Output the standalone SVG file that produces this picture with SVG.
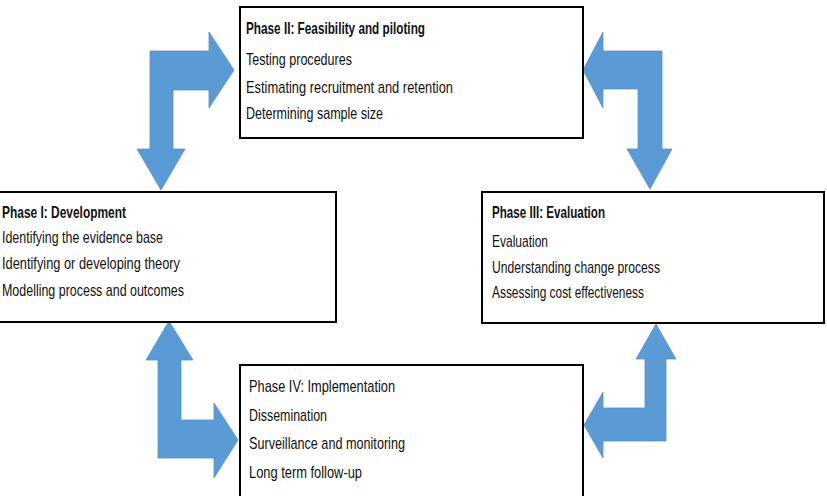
<svg xmlns="http://www.w3.org/2000/svg" width="827" height="496" viewBox="0 0 827 496">
<style>
.box{fill:#fff;stroke:#000;stroke-width:2}
.t{font-family:"Liberation Sans",Arial,sans-serif;font-size:17px;fill:#111}
.b{font-weight:bold}
.arr{fill:#5B9BD5;stroke:#5590CB;stroke-width:0.8;stroke-linejoin:miter}
</style>
<rect width="827" height="496" fill="#fff"/>
<g id="connectors">
<path class="arr" d="M150,51 L209,51 L209,32 L234,70 L209,108 L209,90 L173,90 L173,149 L185,149 L161,190 L137,149 L150,149 Z"/>
<path class="arr" d="M662,51 L603,51 L603,32 L583,70 L603,108 L603,89 L638,89 L638,149 L627,149 L650,189 L672,149 L662,149 Z"/>
<path class="arr" d="M158,458 L214,458 L214,478 L238,440 L214,403 L214,420 L181,420 L181,360 L193,360 L169,321 L146,360 L158,360 Z"/>
<path class="arr" d="M666,441 L603,441 L603,458 L584,425 L603,392 L603,408 L645,408 L645,359 L636,359 L656,324 L676,359 L666,359 Z"/>
</g>
<g id="phase2">
<rect class="box" x="240" y="7" width="343" height="131"/>
<text class="t b" x="246" y="34" textLength="179" lengthAdjust="spacingAndGlyphs">Phase II: Feasibility and piloting</text>
<text class="t" x="246" y="65" textLength="106" lengthAdjust="spacingAndGlyphs">Testing procedures</text>
<text class="t" x="246" y="93" textLength="207" lengthAdjust="spacingAndGlyphs">Estimating recruitment and retention</text>
<text class="t" x="246" y="119" textLength="137" lengthAdjust="spacingAndGlyphs">Determining sample size</text>
</g>
<g id="phase1">
<rect class="box" x="-2" y="192" width="338" height="130"/>
<text class="t b" x="2" y="218" textLength="124" lengthAdjust="spacingAndGlyphs">Phase I: Development</text>
<text class="t" x="2" y="243" textLength="161" lengthAdjust="spacingAndGlyphs">Identifying the evidence base</text>
<text class="t" x="2" y="269" textLength="178" lengthAdjust="spacingAndGlyphs">Identifying or developing theory</text>
<text class="t" x="2" y="296" textLength="182" lengthAdjust="spacingAndGlyphs">Modelling process and outcomes</text>
</g>
<g id="phase3">
<rect class="box" x="482" y="192" width="342" height="131"/>
<text class="t b" x="492" y="218" textLength="113" lengthAdjust="spacingAndGlyphs">Phase III: Evaluation</text>
<text class="t" x="492" y="247" textLength="56" lengthAdjust="spacingAndGlyphs">Evaluation</text>
<text class="t" x="492" y="273" textLength="168" lengthAdjust="spacingAndGlyphs">Understanding change process</text>
<text class="t" x="492" y="298" textLength="152" lengthAdjust="spacingAndGlyphs">Assessing cost effectiveness</text>
</g>
<g id="phase4">
<rect class="box" x="240" y="365" width="343" height="140"/>
<text class="t" x="249" y="392" textLength="146" lengthAdjust="spacingAndGlyphs">Phase IV: Implementation</text>
<text class="t" x="249" y="421" textLength="78" lengthAdjust="spacingAndGlyphs">Dissemination</text>
<text class="t" x="249" y="449" textLength="156" lengthAdjust="spacingAndGlyphs">Surveillance and monitoring</text>
<text class="t" x="249" y="478" textLength="113" lengthAdjust="spacingAndGlyphs">Long term follow-up</text>
</g>
</svg>
